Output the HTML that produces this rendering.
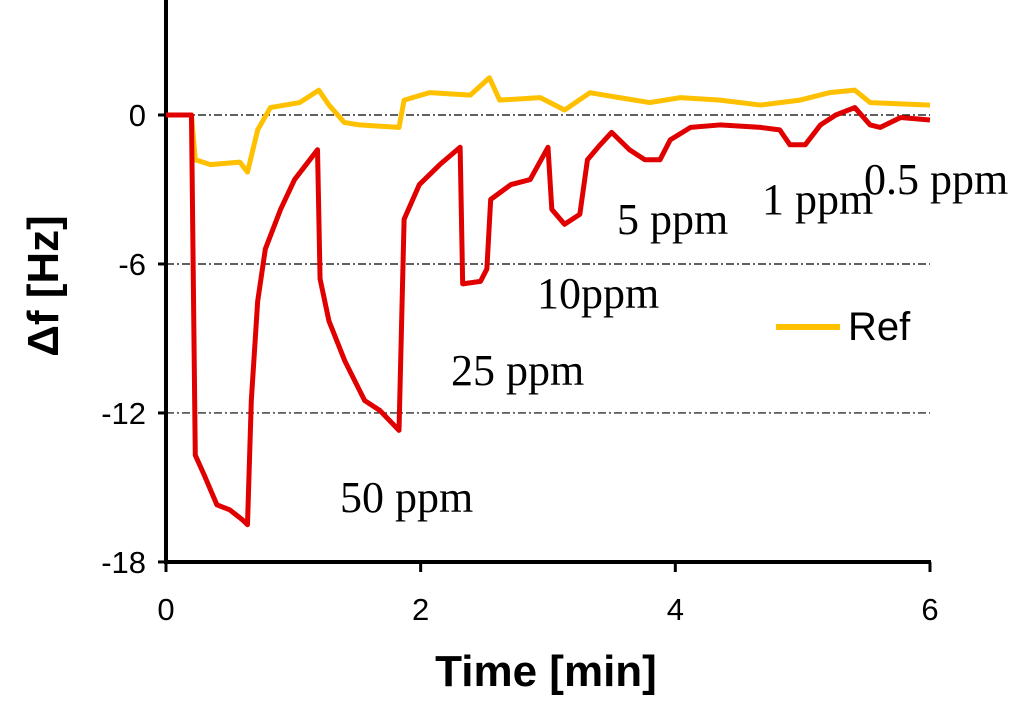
<!DOCTYPE html>
<html><head><meta charset="utf-8"><style>
html,body{margin:0;padding:0;background:#fff;width:1024px;height:706px;overflow:hidden}
svg text{font-family:"Liberation Sans",sans-serif}
</style></head><body>
<svg id="chart" width="1024" height="706">
<g id="grid"></g><g id="axes"></g><g id="series"></g>
<text x="546" y="686" font-size="44" font-weight="bold" text-anchor="middle">Time [min]</text>
<text transform="translate(58,286) rotate(-90)" font-size="44" font-weight="bold" text-anchor="middle">Δf [Hz]</text>
<g font-size="44">
<text style="font-family:'Liberation Serif',serif" x="340" y="512">50 ppm</text>
<text style="font-family:'Liberation Serif',serif" x="451" y="385">25 ppm</text>
<text style="font-family:'Liberation Serif',serif" x="537" y="308">10ppm</text>
<text style="font-family:'Liberation Serif',serif" x="617" y="234">5 ppm</text>
<text style="font-family:'Liberation Serif',serif" x="762" y="214">1 ppm</text>
<text style="font-family:'Liberation Serif',serif" x="864" y="194">0.5 ppm</text>
</g>
<g>
<line x1="776" y1="327" x2="840" y2="327" stroke="#FFC000" stroke-width="6"/>
<text x="848" y="340" font-size="40">Ref</text>
</g>
</svg>
<script>
const xTicks=[0,2,4,6];
const yTicks=[0,-6,-12,-18];
const redT=[0,0.2,0.23,0.3,0.4,0.5,0.6,0.64,0.67,0.72,0.78,0.9,1.01,1.13,1.19,1.21,1.28,1.404,1.56,1.68,1.83,1.87,1.99,2.15,2.31,2.33,2.47,2.52,2.55,2.71,2.86,3.0,3.03,3.13,3.25,3.31,3.41,3.5,3.64,3.76,3.88,3.96,4.12,4.35,4.67,4.82,4.9,5.02,5.14,5.26,5.41,5.53,5.61,5.77,6.0];
const redV=[0,0,-13.7,-14.5,-15.7,-15.9,-16.3,-16.5,-11.5,-7.5,-5.4,-3.8,-2.6,-1.8,-1.4,-6.6,-8.3,-9.9,-11.5,-11.9,-12.7,-4.2,-2.8,-2.0,-1.3,-6.8,-6.7,-6.2,-3.4,-2.8,-2.6,-1.3,-3.8,-4.4,-4.0,-1.8,-1.2,-0.7,-1.4,-1.8,-1.8,-1.0,-0.5,-0.4,-0.5,-0.6,-1.2,-1.2,-0.4,0,0.3,-0.4,-0.5,-0.1,-0.2];
const refT=[0,0.2,0.23,0.35,0.58,0.64,0.72,0.82,1.05,1.2,1.28,1.4,1.52,1.83,1.87,2.07,2.39,2.54,2.62,2.94,3.13,3.33,3.56,3.8,4.04,4.35,4.67,4.98,5.21,5.41,5.53,6.0];
const refV=[0,0,-1.8,-2.0,-1.9,-2.3,-0.6,0.3,0.5,1.0,0.4,-0.3,-0.4,-0.5,0.6,0.9,0.8,1.5,0.6,0.7,0.2,0.9,0.7,0.5,0.7,0.6,0.4,0.6,0.9,1.0,0.5,0.4];
const X=t=>166+t*127.33, Y=v=>115-v*24.83;
const NS='http://www.w3.org/2000/svg';
function mk(tag,attrs,parent){const e=document.createElementNS(NS,tag);for(const k in attrs)e.setAttribute(k,attrs[k]);parent.appendChild(e);return e;}
const grid=document.getElementById('grid'),axes=document.getElementById('axes'),series=document.getElementById('series');
yTicks.forEach(v=>{
 if(v!==-18){const g=mk('line',{x1:166,x2:930,y1:Y(v),y2:Y(v),stroke:'#000','stroke-width':1.2,'stroke-dasharray':'8,3,2,3'},grid);
 
 }
 const t=mk('text',{x:146,y:Y(v)+11,'font-size':31,'text-anchor':'end'},axes);t.textContent=v;
 
 
 const tk=mk('line',{x1:158,x2:166,y1:Y(v),y2:Y(v),stroke:'#000','stroke-width':3},axes);
 
 
});
xTicks.forEach(t=>{
 const l=mk('text',{x:X(t),y:620,'font-size':31,'text-anchor':'middle'},axes);l.textContent=t;
 
 
 const tk=mk('line',{x1:X(t),x2:X(t),y1:562,y2:572,stroke:'#000','stroke-width':3},axes);
 
 
});
const ya=mk('line',{x1:166,x2:166,y1:0,y2:563,stroke:'#000','stroke-width':4},axes);


const xa=mk('line',{x1:164,x2:931,y1:562,y2:562,stroke:'#000','stroke-width':4},axes);


function line(T,V,color,name){const p=mk('polyline',{points:T.map((t,i)=>X(t)+','+Y(V[i])).join(' '),fill:'none',stroke:color,'stroke-width':5,'stroke-linejoin':'round'},series);
 
 }
line(refT,refV,'#FFC000','ref-series-line');
line(redT,redV,'#E00000','sensor-series-line');
</script>
</body></html>
